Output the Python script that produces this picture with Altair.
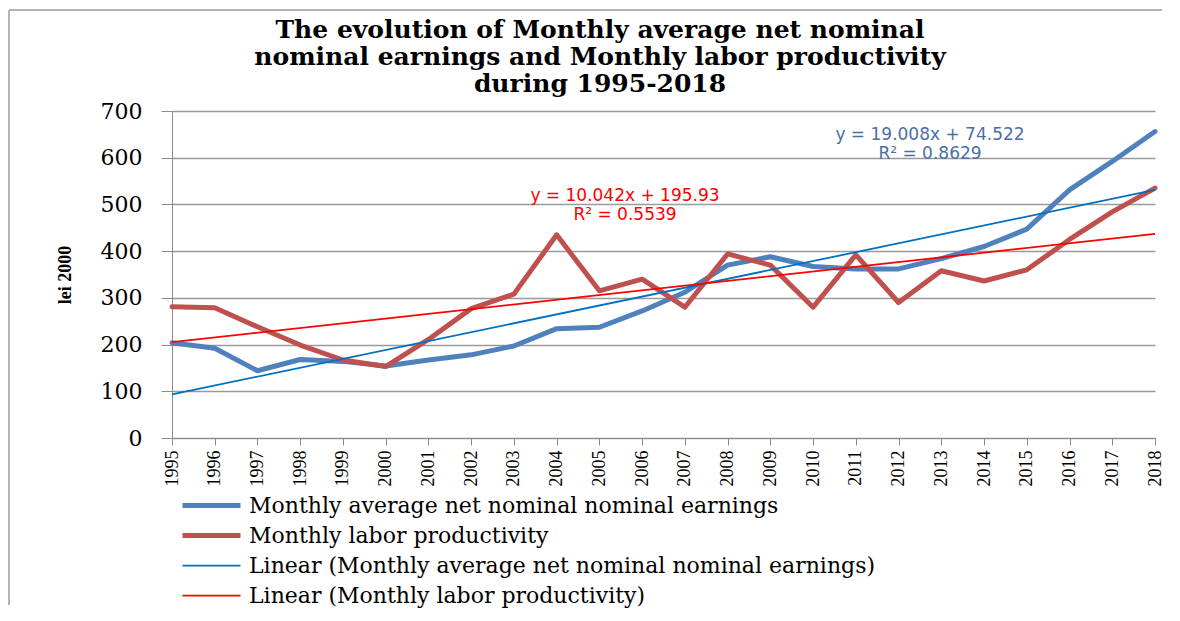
import altair as alt
import pandas as pd

# ---------------- data ----------------
years = list(range(1995, 2019))
earnings = [204, 192, 144, 168, 164, 154, 167, 178, 197, 234, 237, 272,
            312, 370, 388, 367, 362, 362, 384, 410, 447, 531, 592, 656]
productivity = [281, 279, 238, 199, 167, 153, 211, 277, 308, 435, 315, 340,
                280, 394, 370, 280, 392, 290, 358, 336, 360, 425, 484, 535]
y_ticks = [0, 100, 200, 300, 400, 500, 600, 700]

S_EARN = "Monthly average net nominal nominal earnings"
S_PROD = "Monthly labor productivity"
L_EARN = "Linear (Monthly average net nominal nominal earnings)"
L_PROD = "Linear (Monthly labor productivity)"
series_names = [S_EARN, S_PROD, L_EARN, L_PROD]
series_colors = ["#4F81BD", "#C0504D", "#0070C0", "#FF0000"]
series_widths = [5, 5, 1.8, 1.8]

title_lines = ["The evolution of Monthly average net nominal",
               "nominal earnings and Monthly labor productivity",
               "during 1995-2018"]
eq_earn = ["y = 19.008x + 74.522", "R\u00b2 = 0.8629"]
eq_prod = ["y = 10.042x + 195.93", "R\u00b2 = 0.5539"]
y_title = "lei 2000"

df = pd.DataFrame({
    "year": years + years,
    "value": earnings + productivity,
    "series": [S_EARN] * len(years) + [S_PROD] * len(years),
})

# ---------------- encodings ----------------
legend = alt.Legend(
    orient="none", legendX=8, legendY=380, title=None,
    symbolType="stroke", symbolSize=3364, clipHeight=29.2, rowPadding=0,
    labelFont="DejaVu Serif", labelFontSize=22, labelColor="black",
    labelLimit=1000, labelOffset=6, padding=0, direction="vertical",
)

x_enc = alt.X("year:Q",
              scale=alt.Scale(domain=[1995, 2018], nice=False, zero=False),
              axis=alt.Axis(values=years, format="d", labelAngle=-90,
                            labelFont="Liberation Serif", labelFontSize=18,
                            labelColor="black", labelPadding=5, tickSize=7,
                            tickColor="#8c8c8c", domainColor="#8c8c8c",
                            grid=False, labelFlush=False, labelOverlap=False),
              title=None)
y_enc = alt.Y("value:Q",
              scale=alt.Scale(domain=[0, 700], nice=False),
              axis=alt.Axis(values=y_ticks, labelFont="DejaVu Serif",
                            labelFontSize=22, labelColor="black",
                            labelPadding=19, tickSize=11, tickColor="#8c8c8c",
                            domainColor="#8c8c8c", gridColor="#9a9a9a",
                            gridWidth=1.3, titleFont="Liberation Serif",
                            titleFontWeight="bold", titleFontSize=18,
                            titleColor="black", titleX=-107, titleY=163.5,
                            titleBaseline="middle", titleAngle=-90),
              title=y_title)
color_enc = alt.Color("series:N",
                      scale=alt.Scale(domain=series_names, range=series_colors),
                      legend=legend, title=None)
width_enc = alt.StrokeWidth("series:N",
                            scale=alt.Scale(type="ordinal", domain=series_names,
                                            range=series_widths),
                            legend=legend, title=None)

base = alt.Chart(df)

data_lines = base.mark_line(strokeJoin="round", strokeCap="round").encode(
    x=x_enc, y=y_enc, color=color_enc, strokeWidth=width_enc)

trend_lines = base.transform_regression(
    "year", "value", groupby=["series"]
).transform_calculate(
    series='"Linear (" + datum.series + ")"'
).mark_line().encode(
    x=x_enc, y=y_enc, color=color_enc, strokeWidth=width_enc)

one = alt.Data(values=[{"k": 0}])

# outer frame of the chart (top and left edges only, kept inside the svg)
frame_top = alt.Chart(one).mark_rule(color="#b4b4b4", strokeWidth=2).encode(
    x=alt.value(-163), x2=alt.value(990), y=alt.value(-101))
frame_left = alt.Chart(one).mark_rule(color="#b4b4b4", strokeWidth=2).encode(
    x=alt.value(-163), y=alt.value(-101), y2=alt.value(494))


def label(txt, px, py, color, size=17, font="DejaVu Sans"):
    return alt.Chart(one).mark_text(
        font=font, fontSize=size, color=color,
        align="center", baseline="alphabetic"
    ).encode(x=alt.value(px), y=alt.value(py), text=alt.value(txt))


ann = [
    label(eq_prod[0], 453, 89.5, "#FF0000"),
    label(eq_prod[1], 453, 108.5, "#FF0000"),
    label(eq_earn[0], 758, 29, "#4A6FA5"),
    label(eq_earn[1], 758, 48, "#4A6FA5"),
]

title = alt.Chart(one).mark_text(
    font="DejaVu Serif", fontWeight="bold", fontSize=25, color="black",
    align="center", baseline="top", lineBreak="\n", lineHeight=27
).encode(x=alt.value(428), y=alt.value(-93), text=alt.value("\n".join(title_lines)))

chart = alt.layer(frame_top, frame_left, data_lines, trend_lines, *ann, title).properties(
    width=983, height=327,
    autosize=alt.AutoSizeParams(type="none"),
    padding={"left": 164, "top": 103, "right": 17, "bottom": 170},
    background="white",
).configure_view(stroke=None)

chart.save("out.html", embed_options={"renderer": "svg", "actions": False})
